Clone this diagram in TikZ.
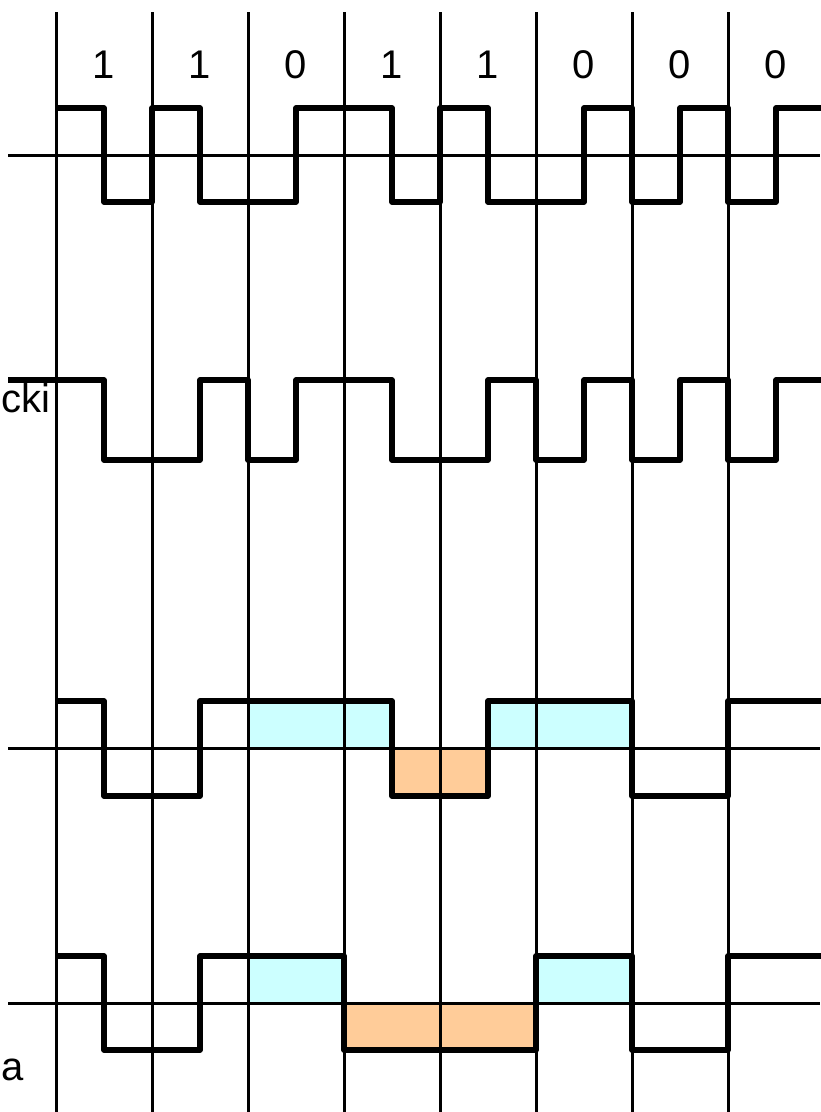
\documentclass[tikz,border=0pt]{standalone}
\usepackage{fontspec}
\setmainfont{Liberation Sans}
\usepackage{xcolor}
\usepackage{tikz}
\definecolor{hicol}{RGB}{204,255,255}
\definecolor{locol}{RGB}{255,204,153}
\tikzset{
  sig/.style   ={line width=5.2pt,line join=round},
  gridln/.style={line width=3pt},
  axis/.style  ={line width=3pt},
  bit/.style   ={font=\fontsize{40}{48}\selectfont,inner sep=0pt},
  lbl/.style   ={font=\fontsize{40}{48}\selectfont,inner sep=0pt},
  hibox/.style ={fill=hicol},
  lobox/.style ={fill=locol},
}
\begin{document}
\begin{tikzpicture}[x=1pt,y=-1pt]
  \useasboundingbox (0,0) rectangle (820,1112);
  % shaded half-bits
  \fill[hibox] (248,701) rectangle (392,748);
  \fill[lobox] (392,748) rectangle (488,796);
  \fill[hibox] (488,701) rectangle (632,748);
  \fill[hibox] (248,956) rectangle (344,1003);
  \fill[lobox] (344,1003) rectangle (536,1050);
  \fill[hibox] (536,956) rectangle (632,1003);
  % bit cells and axes
  \foreach \x in {56,152,...,728} \draw[gridln] (\x,12) -- (\x,1112);
  \foreach \y in {155,748,1003} \draw[axis] (8,\y) -- (820,\y);
  % bits
  \foreach \b [count=\i] in {1,1,0,1,1,0,0,0}
    \node[bit] (b\i) at (8+96*\i,65) {\b};
  \node[lbl,anchor=base west] (lab2) at (1,412) {cki};
  \node[lbl,anchor=base west] (lab4) at (1,1080) {a};
  % signals
  \draw[sig] (56,108) -| (104,202) -| (152,108) -| (200,202) -| (296,108)
    -| (392,202) -| (440,108) -| (488,202) -| (584,108) -| (632,202)
    -| (680,108) -| (728,202) -| (776,108) -- (824,108);
  \draw[sig] (8,380) -| (104,460) -| (200,380) -| (248,460) -| (296,380)
    -| (392,460) -| (488,380) -| (536,460) -| (584,380) -| (632,460)
    -| (680,380) -| (728,460) -| (776,380) -- (824,380);
  \draw[sig] (56,701) -| (104,796) -| (200,701) -| (392,796) -| (488,701)
    -| (632,796) -| (728,701) -- (824,701);
  \draw[sig] (56,956) -| (104,1050) -| (200,956) -| (344,1050) -| (536,956)
    -| (632,1050) -| (728,956) -- (824,956);
\end{tikzpicture}
\end{document}
